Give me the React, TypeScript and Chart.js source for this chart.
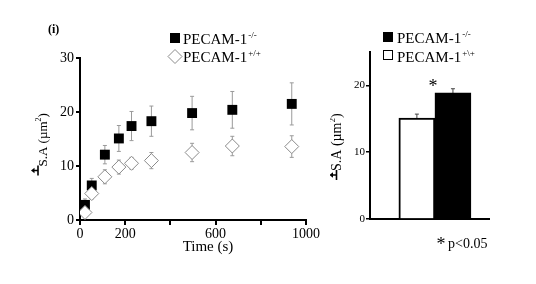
import React, { useEffect, useRef } from 'react';
import { Chart, registerables } from 'chart.js';

Chart.register(...registerables);

// ---------- data ----------
const times = [22, 52, 110, 172, 228, 316, 496, 674, 937];
const koMean = [2.8, 6.4, 12.1, 15.1, 17.4, 18.3, 19.8, 20.4, 21.5];
const koErr = [1.1, 1.3, 1.7, 2.4, 2.7, 2.8, 3.1, 3.4, 3.9];
const wtMean = [1.4, 4.9, 8.0, 9.8, 10.5, 11.0, 12.5, 13.7, 13.6];
const wtErr = [0.6, 1.0, 1.3, 1.3, 1.1, 1.5, 1.7, 1.8, 2.0];
const xTicks = [0, 200, 400, 600, 800, 1000];
const xTickLabels = ['0', '200', '', '600', '', '1000'];
const yTicksLeft = [0, 10, 20, 30];

const barGroups = ['PECAM-1+\\+', 'PECAM-1-/-'];
const barMeans = [15.1, 18.9];
const barErrs = [0.6, 0.6];
const barYTicks = [0, 10, 20];

const SERIF = "'Liberation Serif', 'Times New Roman', serif";

function drawSupLabel(ctx: CanvasRenderingContext2D, x: number, y: number, main: string, sup: string) {
  ctx.save();
  ctx.fillStyle = '#000';
  ctx.textAlign = 'left';
  ctx.textBaseline = 'alphabetic';
  ctx.font = `15px ${SERIF}`;
  ctx.fillText(main, x, y);
  const w = ctx.measureText(main).width;
  ctx.font = `9px ${SERIF}`;
  ctx.fillText(sup, x + w + 1, y - 6);
  ctx.restore();
}

// rotated y title: arrow-from-bar mark drawn with lines, then "S.A (µm²)"
function drawYTitle(ctx: CanvasRenderingContext2D, baseX: number, bottomY: number, barOffset: number, size: number) {
  ctx.save();
  ctx.strokeStyle = '#000';
  ctx.fillStyle = '#000';
  ctx.lineWidth = 1.6;
  const barX = baseX - barOffset;
  const arrowY = bottomY - 5;
  ctx.beginPath();
  ctx.moveTo(barX, bottomY - 10);
  ctx.lineTo(barX, bottomY);
  ctx.moveTo(barX, arrowY);
  ctx.lineTo(barX - 5, arrowY);
  ctx.stroke();
  ctx.beginPath();
  ctx.moveTo(barX - 7, arrowY);
  ctx.lineTo(barX - 3.5, arrowY - 2.8);
  ctx.lineTo(barX - 3.5, arrowY + 2.8);
  ctx.closePath();
  ctx.fill();

  ctx.translate(baseX, bottomY - 9);
  ctx.rotate(-Math.PI / 2);
  ctx.textAlign = 'left';
  ctx.textBaseline = 'alphabetic';
  ctx.font = `${size}px ${SERIF}`;
  const main = 'S.A (µm';
  ctx.fillText(main, 0, 0);
  const mw = ctx.measureText(main).width;
  ctx.font = `${Math.round(size * 0.62)}px ${SERIF}`;
  ctx.fillText('2', mw, -size * 0.42);
  const sw = ctx.measureText('2').width;
  ctx.font = `${size}px ${SERIF}`;
  ctx.fillText(')', mw + sw, 0);
  ctx.restore();
}

const errorBarPlugin = {
  id: 'errorBars',
  beforeDatasetsDraw(chart: any) {
    const ctx = chart.ctx;
    const ys = chart.scales.y;
    ctx.save();
    chart.data.datasets.forEach((ds: any, di: number) => {
      const meta = chart.getDatasetMeta(di);
      const errs: number[] = ds.errors || [];
      meta.data.forEach((el: any, i: number) => {
        const v = ds.data[i].y;
        const e = errs[i];
        if (e == null) return;
        const x = el.x;
        const yTop = ys.getPixelForValue(v + e);
        const yBot = ys.getPixelForValue(v - e);
        ctx.strokeStyle = ds.errorColor || '#9a9a9a';
        ctx.lineWidth = 1;
        ctx.beginPath();
        ctx.moveTo(x, yTop);
        ctx.lineTo(x, yBot);
        ctx.moveTo(x - 2, yTop);
        ctx.lineTo(x + 2, yTop);
        ctx.moveTo(x - 2, yBot);
        ctx.lineTo(x + 2, yBot);
        ctx.stroke();
      });
    });
    ctx.restore();
  },
};

const leftTextPlugin = {
  id: 'leftText',
  afterDraw(chart: any) {
    const ctx: CanvasRenderingContext2D = chart.ctx;
    const area = chart.chartArea;
    ctx.save();
    ctx.fillStyle = '#000';
    ctx.font = `bold 12px ${SERIF}`;
    ctx.textAlign = 'left';
    ctx.fillText('(i)', 48, 33);
    // legend
    ctx.fillStyle = '#000';
    ctx.fillRect(170, 33, 10, 10);
    drawSupLabel(ctx, 183, 44, 'PECAM-1', '-/-');
    ctx.beginPath();
    ctx.moveTo(175, 49.5);
    ctx.lineTo(182, 56.5);
    ctx.lineTo(175, 63.5);
    ctx.lineTo(168, 56.5);
    ctx.closePath();
    ctx.fillStyle = '#fff';
    ctx.fill();
    ctx.strokeStyle = '#8a8a8a';
    ctx.lineWidth = 1;
    ctx.stroke();
    drawSupLabel(ctx, 183, 62, 'PECAM-1', '+/+');
    // x title
    ctx.fillStyle = '#000';
    ctx.font = `15px ${SERIF}`;
    ctx.textAlign = 'center';
    ctx.fillText('Time (s)', area.left + 128, 251);
    ctx.restore();
    drawYTitle(ctx, 46.5, 175.5, 8.5, 13);
  },
};

const rightTextPlugin = {
  id: 'rightText',
  afterDraw(chart: any) {
    const ctx: CanvasRenderingContext2D = chart.ctx;
    ctx.save();
    ctx.fillStyle = '#000';
    ctx.fillRect(53, 32, 10, 10);
    drawSupLabel(ctx, 67, 43, 'PECAM-1', '-/-');
    ctx.fillStyle = '#fff';
    ctx.fillRect(53.5, 50.5, 9, 9);
    ctx.strokeStyle = '#000';
    ctx.lineWidth = 1;
    ctx.strokeRect(53.5, 50.5, 9, 9);
    drawSupLabel(ctx, 67, 61.5, 'PECAM-1', '+\\+');
    ctx.fillStyle = '#000';
    ctx.textAlign = 'center';
    ctx.font = `18px ${SERIF}`;
    ctx.fillText('*', 103, 92);
    ctx.fillText('*', 111, 250);
    ctx.textAlign = 'left';
    ctx.font = `14px ${SERIF}`;
    ctx.fillText('p<0.05', 118, 248);
    ctx.restore();
    drawYTitle(ctx, 10.5, 180, 4, 14);
  },
};

export default function App() {
  const leftRef = useRef<HTMLCanvasElement>(null);
  const rightRef = useRef<HTMLCanvasElement>(null);

  useEffect(() => {
    const tickFont = { family: SERIF, size: 14 };
    const left = new Chart(leftRef.current as HTMLCanvasElement, {
      type: 'scatter',
      data: {
        datasets: [
          {
            label: 'PECAM-1+/+',
            data: times.map((t, i) => ({ x: t, y: wtMean[i] })),
            pointStyle: 'rectRot',
            pointRadius: 7,
            backgroundColor: '#ffffff',
            borderColor: '#8a8a8a',
            borderWidth: 1,
            order: 0,
            errors: wtErr,
          } as any,
          {
            label: 'PECAM-1-/-',
            data: times.map((t, i) => ({ x: t, y: koMean[i] })),
            pointStyle: 'rect',
            pointRadius: 7,
            backgroundColor: '#000000',
            borderColor: '#000000',
            borderWidth: 0,
            order: 1,
            errors: koErr,
          } as any,
        ],
      },
      options: {
        animation: false,
        responsive: false,
        maintainAspectRatio: false,
        layout: { padding: { top: 58, right: 24, left: 0, bottom: 0 } },
        plugins: { legend: { display: false }, tooltip: { enabled: false } },
        scales: {
          x: {
            type: 'linear',
            min: 0,
            max: 1000,
            afterBuildTicks: (s: any) => {
              s.ticks = xTicks.map((v) => ({ value: v }));
            },
            afterFit: (s: any) => {
              s.height = 64;
            },
            ticks: {
              callback: (_v: any, i: number) => xTickLabels[i],
              font: tickFont,
              color: '#000',
              maxRotation: 0,
              autoSkip: false,
              padding: 1,
            },
            grid: { drawOnChartArea: false, drawTicks: true, tickLength: 5, color: '#000', lineWidth: 2 },
            border: { color: '#000', width: 2 },
          },
          y: {
            type: 'linear',
            min: 0,
            max: 30,
            afterBuildTicks: (s: any) => {
              s.ticks = yTicksLeft.map((v) => ({ value: v }));
            },
            afterFit: (s: any) => {
              s.width = 80;
            },
            ticks: { font: tickFont, color: '#000', padding: 2 },
            grid: { drawOnChartArea: false, drawTicks: true, tickLength: 4, color: '#000', lineWidth: 2 },
            border: { color: '#000', width: 2 },
          },
        },
      } as any,
      plugins: [errorBarPlugin, leftTextPlugin],
    });

    const right = new Chart(rightRef.current as HTMLCanvasElement, {
      type: 'bar',
      data: {
        datasets: [
          {
            label: 'S.A',
            data: barGroups.map((_g, i) => ({ x: i + 1, y: barMeans[i] })),
            backgroundColor: ['#ffffff', '#000000'],
            borderColor: '#000000',
            borderWidth: 2,
            borderSkipped: 'bottom',
            barPercentage: 1,
            categoryPercentage: 1,
            errors: barErrs,
            errorColor: '#444',
          } as any,
        ],
      },
      options: {
        animation: false,
        responsive: false,
        maintainAspectRatio: false,
        layout: { padding: { top: 52, right: 47, left: 0, bottom: 0 } },
        plugins: { legend: { display: false }, tooltip: { enabled: false } },
        scales: {
          x: {
            type: 'linear',
            offset: false,
            min: -0.3,
            max: 3,
            afterBuildTicks: (s: any) => {
              s.ticks = barGroups.map((_g, i) => ({ value: i + 1 }));
            },
            afterFit: (s: any) => {
              s.height = 65;
            },
            ticks: { display: false },
            grid: { drawOnChartArea: false, drawTicks: false, display: false, offset: false },
            border: { color: '#000', width: 2 },
          },
          y: {
            type: 'linear',
            min: 0,
            max: 25,
            afterBuildTicks: (s: any) => {
              s.ticks = barYTicks.map((v) => ({ value: v }));
            },
            afterFit: (s: any) => {
              s.width = 40;
            },
            ticks: { font: { family: SERIF, size: 11 }, color: '#000', padding: 1 },
            grid: { drawOnChartArea: false, drawTicks: true, tickLength: 4, color: '#000', lineWidth: 1.5 },
            border: { color: '#000', width: 2 },
          },
        },
      } as any,
      plugins: [errorBarPlugin, rightTextPlugin],
    });

    return () => {
      left.destroy();
      right.destroy();
    };
  }, []);

  return (
    <div style={{ position: 'absolute', left: 0, top: 0, width: 536, height: 284, background: '#fff' }}>
      <canvas ref={leftRef} width={330} height={284} style={{ position: 'absolute', left: 0, top: 0, width: 330, height: 284 }} />
      <canvas ref={rightRef} width={206} height={284} style={{ position: 'absolute', left: 330, top: 0, width: 206, height: 284 }} />
    </div>
  );
}
